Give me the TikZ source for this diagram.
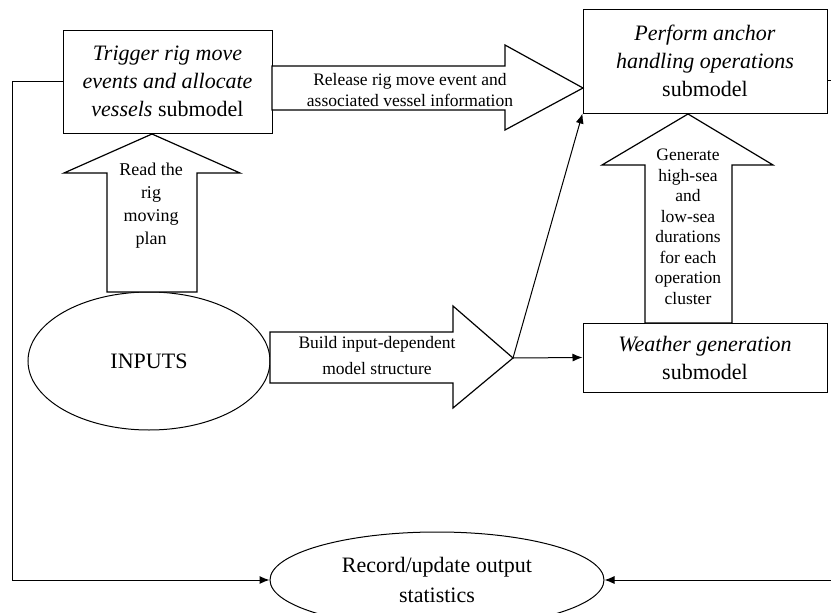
\documentclass[tikz,border=0pt]{standalone}
\usepackage{fontspec}
\setmainfont{Liberation Serif}
\usetikzlibrary{arrows.meta,shapes.geometric}
\begin{document}
\begin{tikzpicture}[x=1pt,y=-1pt,line width=1pt,
  box/.style={draw,rectangle,inner sep=0pt,align=center,font=\fontsize{22}{28}\selectfont},
  oval/.style={draw,ellipse,inner sep=0pt,align=center,font=\fontsize{22}{30}\selectfont},
  blk/.style={draw,line width=1.2pt,fill=white,line join=miter},
  lbl/.style={align=center,inner sep=0pt},
  conn/.style={-{Latex[length=10pt,width=8pt]},line width=1pt}]
\useasboundingbox (0,0) rectangle (831,613);
\clip (0,0) rectangle (831,613);
% boxes and ellipses
\node[box,minimum width=209pt,minimum height=103pt] (trig) at (167.5,81.5)
  {\textit{Trigger rig move}\\\textit{events and allocate}\\\textit{vessels} submodel};
\node[box,minimum width=244pt,minimum height=104pt] (perf) at (705,61)
  {\textit{Perform anchor}\\\textit{handling operations}\\submodel};
\node[box,minimum width=244pt,minimum height=69pt] (wea) at (705,357.5)
  {\textit{Weather generation}\\submodel};
\node[oval,minimum width=242pt,minimum height=138pt] (inp) at (149,361) {INPUTS};
\node[oval,minimum width=334pt,minimum height=96pt] (rec) at (437,580)
  {Record/update output\\statistics};
% block arrows
\draw[blk] (272,66) -- (505,66) -- (505,45) -- (583,88) -- (505,130) -- (505,110) -- (272,110) -- cycle;
\node[lbl,font=\fontsize{17.5}{20.5}\selectfont] (reltxt) at (410,90)
  {Release rig move event and\\associated vessel information};
\draw[blk] (107,292) -- (107,173) -- (64,173) -- (152,134) -- (240,173) -- (197,173) -- (197,292) -- cycle;
\node[lbl,font=\fontsize{18}{23}\selectfont] (readtxt) at (151,206)
  {Read the\\rig\\moving\\plan};
\draw[blk] (270,332) -- (453,332) -- (453,306) -- (513,358) -- (453,408) -- (453,383) -- (270,383) -- cycle;
\node[lbl,font=\fontsize{17.5}{26}\selectfont] (buildtxt) at (377,356)
  {Build input-dependent\\model structure};
\draw[blk] (645,323) -- (645,165) -- (602,165) -- (688,114) -- (773,165) -- (732,165) -- (732,323) -- cycle;
\node[lbl,font=\fontsize{17.5}{20.5}\selectfont] (gentxt) at (688,227)
  {Generate\\high-sea\\and\\low-sea\\durations\\for each\\operation\\cluster};
% connectors
\coordinate (bt) at (513,358);
\draw[conn] (bt) -- (perf.south west);
\draw[conn] (bt) -- (wea.west);
\coordinate (lc) at (12,0);
\coordinate (rc) at (832,0);
\draw[conn] (trig.west) -- (trig.west -| lc) |- (rec.west);
\draw[conn] ([yshift=-19pt]perf.east) -- ([yshift=-19pt]perf.east -| rc) |- (rec.east);
\end{tikzpicture}
\end{document}
